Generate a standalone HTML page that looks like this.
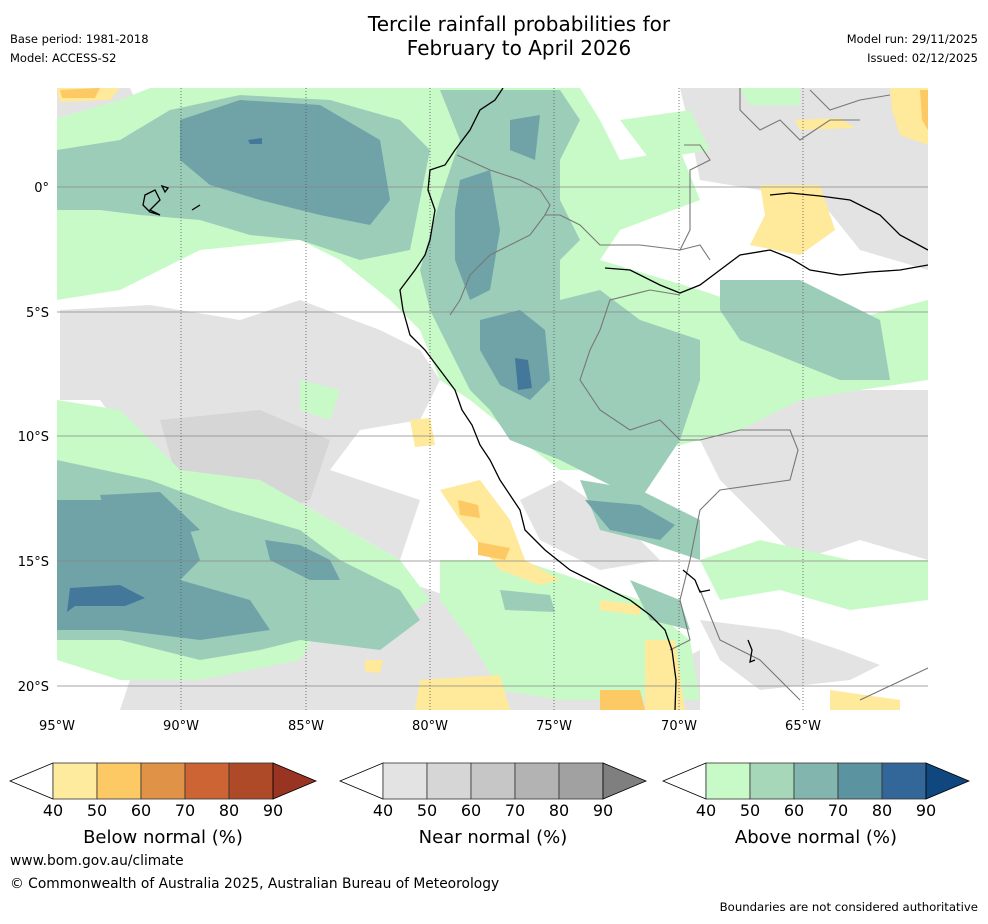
<!DOCTYPE html>
<html><head><meta charset="utf-8"><style>
body{margin:0;background:#fff;width:988px;height:919px;overflow:hidden;font-family:"Liberation Sans","DejaVu Sans",sans-serif;}
svg text{font-family:"DejaVu Sans","Liberation Sans",sans-serif;}
</style></head><body>
<svg width="988" height="919" viewBox="0 0 988 919">
<text x="519" y="31" font-size="20" text-anchor="middle">Tercile rainfall probabilities for</text>
<text x="519" y="55" font-size="20" text-anchor="middle">February to April 2026</text>
<text x="10" y="43" font-size="11.5">Base period: 1981-2018</text>
<text x="10" y="62" font-size="11.5">Model: ACCESS-S2</text>
<text x="978" y="43" font-size="11.5" text-anchor="end">Model run: 29/11/2025</text>
<text x="978" y="62" font-size="11.5" text-anchor="end">Issued: 02/12/2025</text>

<defs><clipPath id="mc"><rect x="57" y="88" width="871" height="622"/></clipPath></defs>
<g clip-path="url(#mc)">
<rect x="57" y="88" width="871" height="622" fill="#fff"/>
<g fill="#e3e3e3">
<path d="M60,310 L150,305 L240,320 L300,300 L380,330 L420,350 L440,380 L420,420 L360,430 L330,470 L420,500 L400,560 L330,520 L260,480 L180,470 L130,440 L100,400 L60,400 Z"/>
<path d="M640,320 L700,310 L760,330 L800,380 L860,390 L928,390 L928,560 L860,540 L800,560 L760,520 L720,480 L700,440 L660,420 L640,380 Z"/>
<path d="M680,88 L928,88 L928,270 L860,250 L820,200 L760,190 L700,180 L690,130 Z"/>
<path d="M270,600 L400,580 L460,600 L520,640 L560,660 L640,680 L700,650 L700,710 L120,710 L130,680 L220,660 L260,630 Z"/>
<path d="M520,500 L560,480 L620,520 L660,560 L600,570 L540,540 Z"/>
<path d="M700,620 L780,630 L840,650 L880,665 L850,680 L760,690 L720,660 Z"/>
<path d="M57,88 L130,88 L140,110 L100,135 L57,135 Z"/>
</g>
<path d="M160,420 L260,410 L330,440 L310,500 L250,520 L180,490 Z" fill="#d6d6d6"/>
<g fill="#c8fac8">
<path d="M57,118 L120,100 L150,88 L580,88 L600,120 L620,160 L680,150 L700,200 L620,230 L600,260 L700,290 L760,310 L800,300 L850,320 L928,300 L928,380 L860,390 L800,400 L740,430 L700,440 L660,450 L640,500 L610,470 L560,470 L520,440 L470,400 L440,380 L420,330 L390,300 L340,260 L300,240 L200,250 L120,290 L57,300 Z"/>
<path d="M57,400 L120,410 L180,470 L260,480 L330,520 L400,560 L430,600 L400,620 L330,610 L300,660 L200,680 L120,680 L57,660 Z"/>
<path d="M440,560 L520,560 L580,580 L640,600 L690,640 L700,700 L560,700 L500,690 L470,640 L440,600 Z"/>
<path d="M700,560 L760,540 L850,560 L928,560 L928,600 L850,610 L780,590 L720,600 Z"/>
<path d="M300,380 L340,390 L330,420 L300,410 Z"/>
<path d="M620,120 L690,110 L710,150 L650,160 Z"/>
<path d="M740,88 L800,88 L800,105 L750,105 Z"/>
</g>
<g fill="#9ccdb9">
<path d="M57,150 L120,140 L170,110 L240,95 L330,100 L400,120 L430,150 L420,200 L410,250 L360,260 L300,240 L250,235 L200,220 L140,215 L100,210 L57,210 Z"/>
<path d="M440,90 L560,90 L580,120 L560,160 L560,200 L580,240 L560,260 L560,300 L600,290 L640,320 L700,340 L700,380 L680,440 L640,500 L600,480 L560,460 L510,440 L490,410 L470,390 L450,350 L430,310 L420,270 L440,200 L460,140 Z"/>
<path d="M57,460 L150,480 L230,510 L300,530 L340,560 L400,590 L420,620 L380,650 L300,640 L260,650 L200,660 L120,640 L57,640 Z"/>
<path d="M580,480 L640,490 L700,520 L700,560 L640,540 L600,530 Z"/>
<path d="M720,280 L800,280 L880,320 L890,380 L840,380 L790,360 L740,340 L720,310 Z"/>
<path d="M630,580 L680,600 L690,630 L650,620 Z"/>
<path d="M500,590 L550,595 L555,612 L505,610 Z"/>
</g>
<g fill="#6fa3a8">
<path d="M180,120 L240,100 L320,105 L380,140 L390,200 L370,225 L320,215 L260,200 L210,185 L180,160 Z"/>
<path d="M460,180 L490,170 L500,230 L490,290 L470,300 L455,260 L455,210 Z"/>
<path d="M480,320 L520,310 L545,330 L550,380 L530,400 L500,385 L480,350 Z"/>
<path d="M510,120 L540,115 L535,160 L510,150 Z"/>
<path d="M57,500 L130,500 L190,530 L200,560 L180,580 L250,600 L270,630 L200,640 L120,630 L57,630 Z"/>
<path d="M100,495 L160,492 L200,530 L150,540 L110,530 Z"/>
<path d="M265,540 L300,545 L330,560 L340,580 L310,580 L270,560 Z"/>
<path d="M585,500 L640,505 L675,525 L660,540 L610,530 Z"/>
</g>
<g fill="#43789a">
<path d="M70,588 L120,585 L145,598 L125,606 L75,606 L67,612 Z"/>
<path d="M515,358 L528,360 L532,388 L518,390 Z"/>
<path d="M248,140 L262,138 L262,144 L250,144 Z"/>
</g>
<g fill="#ffe99a">
<path d="M760,185 L820,185 L835,230 L800,255 L750,245 L765,215 Z"/>
<path d="M890,88 L928,88 L928,145 L900,135 L892,110 Z"/>
<path d="M440,490 L480,480 L510,520 L525,560 L560,580 L540,585 L500,570 L460,520 Z"/>
<path d="M645,640 L675,640 L685,710 L645,710 Z"/>
<path d="M57,88 L120,88 L110,100 L60,102 Z"/>
<path d="M420,680 L500,675 L510,710 L415,710 Z"/>
<path d="M830,690 L900,700 L900,710 L830,710 Z"/>
<path d="M410,420 L430,418 L435,445 L415,447 Z"/>
<path d="M600,600 L640,605 L640,615 L600,610 Z"/>
<path d="M365,660 L383,660 L380,673 L365,672 Z"/>
<path d="M795,120 L840,118 L855,128 L800,130 Z"/>
</g>
<g fill="#fdc965">
<path d="M458,500 L478,505 L480,518 L460,515 Z"/>
<path d="M478,542 L510,548 L505,560 L478,555 Z"/>
<path d="M60,90 L100,88 L95,98 L62,98 Z"/>
<path d="M920,90 L928,90 L928,130 L922,120 Z"/>
<path d="M600,690 L640,690 L645,710 L600,710 Z"/>
</g>
<g stroke="#888" stroke-width="0.7">
<line x1="57" y1="187" x2="928" y2="187"/><line x1="57" y1="312" x2="928" y2="312"/><line x1="57" y1="436" x2="928" y2="436"/><line x1="57" y1="561" x2="928" y2="561"/><line x1="57" y1="686" x2="928" y2="686"/>
</g>
<g stroke="#555" stroke-width="0.8" stroke-dasharray="1,2">
<line x1="181" y1="88" x2="181" y2="710"/><line x1="306" y1="88" x2="306" y2="710"/><line x1="430" y1="88" x2="430" y2="710"/><line x1="554" y1="88" x2="554" y2="710"/><line x1="679" y1="88" x2="679" y2="710"/><line x1="803" y1="88" x2="803" y2="710"/>
</g>
<g fill="none" stroke="#777" stroke-width="1.1">
<path d="M457,155 L490,170 L520,180 L540,190 L550,205 L545,215 L560,215 L580,225 L600,245 L640,245 L680,250 L700,245 L710,260"/>
<path d="M545,215 L530,235 L490,255 L470,275 L460,300 L450,315"/>
<path d="M680,295 L650,290 L610,300 L600,330 L590,350 L580,380 L600,410 L630,430 L660,420 L680,440 L700,440 L740,430 L790,430 L798,450 L790,480 L720,490 L700,510 L690,560 L680,600 L690,640 L670,650"/>
<path d="M684,145 L700,145 L710,160 L690,170 L690,230 L680,250"/>
<path d="M740,88 L740,110 L760,130 L780,120 L800,140 L830,120 L860,120"/>
<path d="M810,90 L830,110 L860,100 L890,95"/>
<path d="M700,590 L720,640 L760,660 L800,700"/>
<path d="M860,700 L928,668"/>
</g>
<g fill="none" stroke="#000" stroke-width="1.3">
<path d="M503,88 L495,100 L480,110 L470,130 L455,150 L445,165 L430,170 L428,190 L435,210 L430,240 L425,255 L415,270 L400,290 L403,310 L410,335 L425,350 L440,370 L455,390 L462,410 L472,425 L480,445 L490,460 L500,480 L510,495 L520,510 L525,530 L545,550 L570,570 L600,585 L630,600 L650,615 L665,630 L672,650 L676,680 L675,710"/>
<path d="M605,268 L630,270 L660,285 L680,293 L700,285 L720,270 L740,255 L770,250 L790,258 L810,270 L840,275 L870,272 L900,270 L928,265"/>
<path d="M770,195 L790,193 L820,196 L850,200 L880,215 L900,235 L928,250"/>
<path d="M145,195 L155,190 L160,200 L150,210 L160,215 L150,212 L143,205 Z"/>
<path d="M162,186 L168,188 L165,192 Z"/>
<path d="M192,210 L200,205"/>
<path d="M748,640 L752,650 L750,662 L755,660"/>
<path d="M683,570 L695,580 L700,592 L710,590"/>
</g>
</g>
<g font-size="13">
<text x="49" y="192" text-anchor="end">0°</text>
<text x="49" y="317" text-anchor="end">5°S</text>
<text x="49" y="441" text-anchor="end">10°S</text>
<text x="49" y="566" text-anchor="end">15°S</text>
<text x="49" y="691" text-anchor="end">20°S</text>
</g>
<g font-size="13" text-anchor="middle">
<text x="57" y="730">95°W</text><text x="181" y="730">90°W</text><text x="306" y="730">85°W</text><text x="430" y="730">80°W</text><text x="554" y="730">75°W</text><text x="679" y="730">70°W</text><text x="803" y="730">65°W</text>
</g>
<g id="bars"></g>
<text x="10" y="865" font-size="13.8">www.bom.gov.au/climate</text>
<text x="10" y="888" font-size="13.8">© Commonwealth of Australia 2025, Australian Bureau of Meteorology</text>
<text x="978" y="911" font-size="11.7" text-anchor="end">Boundaries are not considered authoritative</text>
</svg>
<script>
const tickLabels=["40","50","60","70","80","90"];
const belowColors=["#ffeb9e","#fdc965","#e09347","#cc6533","#ae4a27"];
const nearColors=["#e3e3e3","#d6d6d6","#c6c6c6","#b3b3b3","#a1a1a1"];
const aboveColors=["#c8fac8","#a5d7b8","#82b5ae","#5b94a0","#336699"];
const barTitles=["Below normal (%)","Near normal (%)","Above normal (%)"];
const barEnds=["#993322","#7f7f7f","#11477f"];
const barStarts=[10,340,663];
const NS="http://www.w3.org/2000/svg";
const g=document.getElementById('bars');
[belowColors,nearColors,aboveColors].forEach((cols,bi)=>{
  const x0=barStarts[bi], y0=763, h=36, tri=43, cw=44;
  const r0=x0+tri;
  const lt=document.createElementNS(NS,'polygon');
  lt.setAttribute('points',`${r0},${y0} ${x0},${y0+h/2} ${r0},${y0+h}`);
  lt.setAttribute('fill','#fff');lt.setAttribute('stroke','#000');lt.setAttribute('stroke-width','0.8');
  
  
  g.appendChild(lt);
  cols.forEach((c,i)=>{
    const r=document.createElementNS(NS,'rect');
    r.setAttribute('x',r0+i*cw);r.setAttribute('y',y0);r.setAttribute('width',cw);r.setAttribute('height',h);
    r.setAttribute('fill',c);r.setAttribute('stroke','#333');r.setAttribute('stroke-width','0.8');
    
    
    g.appendChild(r);
  });
  const re=r0+cols.length*cw;
  const rt=document.createElementNS(NS,'polygon');
  rt.setAttribute('points',`${re},${y0} ${re+tri},${y0+h/2} ${re},${y0+h}`);
  rt.setAttribute('fill',barEnds[bi]);rt.setAttribute('stroke','#000');rt.setAttribute('stroke-width','0.8');
  
  
  g.appendChild(rt);
  tickLabels.forEach((t,i)=>{
    const tx=document.createElementNS(NS,'text');
    tx.setAttribute('x',r0+i*cw);tx.setAttribute('y',816);tx.setAttribute('font-size','16');tx.setAttribute('text-anchor','middle');
    tx.textContent=t;
    
    
    g.appendChild(tx);
  });
  const tt=document.createElementNS(NS,'text');
  tt.setAttribute('x',r0+cols.length*cw/2);tt.setAttribute('y',843);tt.setAttribute('font-size','18');tt.setAttribute('text-anchor','middle');
  tt.textContent=barTitles[bi];
  
  
  g.appendChild(tt);
});
</script>
</body></html>
